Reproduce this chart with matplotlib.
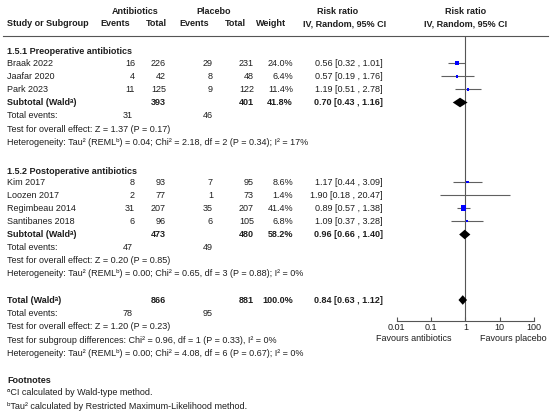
import numpy as np
import matplotlib
matplotlib.use('Agg')
from matplotlib import pyplot as plt

plt.rcParams['font.family'] = ['Liberation Sans', 'DejaVu Sans']

# Subgroup 1.5.1 Preoperative antibiotics
studies1 = ['Braak 2022', 'Jaafar 2020', 'Park 2023']
ev_a1 = [16, 4, 11]
tot_a1 = [226, 42, 125]
ev_p1 = [29, 8, 9]
tot_p1 = [231, 48, 122]
weight1 = [24.0, 6.4, 11.4]
rr1 = [0.56, 0.57, 1.19]
lo1 = [0.32, 0.19, 0.51]
hi1 = [1.01, 1.76, 2.78]
sub1 = dict(tot_a=393, tot_p=401, weight=41.8, rr=0.70, lo=0.43, hi=1.16, ev_a=31, ev_p=46)
test1 = 'Test for overall effect: Z = 1.37 (P = 0.17)'
het1 = 'Heterogeneity: Tau² (REMLᵇ) = 0.04; Chi² = 2.18, df = 2 (P = 0.34); I² = 17%'

# Subgroup 1.5.2 Postoperative antibiotics
studies2 = ['Kim 2017', 'Loozen 2017', 'Regimbeau 2014', 'Santibanes 2018']
ev_a2 = [8, 2, 31, 6]
tot_a2 = [93, 77, 207, 96]
ev_p2 = [7, 1, 35, 6]
tot_p2 = [95, 73, 207, 105]
weight2 = [8.6, 1.4, 41.4, 6.8]
rr2 = [1.17, 1.90, 0.89, 1.09]
lo2 = [0.44, 0.18, 0.57, 0.37]
hi2 = [3.09, 20.47, 1.38, 3.28]
sub2 = dict(tot_a=473, tot_p=480, weight=58.2, rr=0.96, lo=0.66, hi=1.40, ev_a=47, ev_p=49)
test2 = 'Test for overall effect: Z = 0.20 (P = 0.85)'
het2 = 'Heterogeneity: Tau² (REMLᵇ) = 0.00; Chi² = 0.65, df = 3 (P = 0.88); I² = 0%'

# Overall
total = dict(tot_a=866, tot_p=881, weight=100.0, rr=0.84, lo=0.63, hi=1.12, ev_a=78, ev_p=95)
test_all = 'Test for overall effect: Z = 1.20 (P = 0.23)'
test_sub = 'Test for subgroup differences: Chi² = 0.96, df = 1 (P = 0.33), I² = 0%'
het_all = 'Heterogeneity: Tau² (REMLᵇ) = 0.00; Chi² = 4.08, df = 6 (P = 0.67); I² = 0%'

footnotes = ['ᵃCI calculated by Wald-type method.',
             'ᵇTau² calculated by Restricted Maximum-Likelihood method.']

ticks = [0.01, 0.1, 1, 10, 100]
tick_labels = ['0.01', '0.1', '1', '10', '100']

# Row positions (pixels from top)
rows1 = [63, 76.5, 89.5]
rows2 = [182, 195, 208, 221]
y_sub1, y_sub2, y_tot = 102.5, 234.5, 300

W, H = 554, 419
fig = plt.figure(figsize=(W / 100, H / 100), dpi=100)
ax = fig.add_axes([0, 0, 1, 1])
ax.set_xlim(0, W)
ax.set_ylim(H, 0)
ax.axis('off')

fs = 6.5
tc = '#1e1e1e'


def txt(x, y, s, ha='left', bold=False):
    ax.text(x, y, s, ha=ha, va='center', fontsize=fs, color=tc,
            fontweight='bold' if bold else 'normal')


# column x positions
x_lab, x_eva, x_tota, x_evp, x_totp, x_w, x_rr = 7, 135, 166, 213, 254, 293, 383

# header
txt(135.5, 11, 'Antibiotics', 'center', True)
txt(214, 11, 'Placebo', 'center', True)
txt(338, 11, 'Risk ratio', 'center', True)
txt(466, 11, 'Risk ratio', 'center', True)
txt(x_lab, 24, 'Study or Subgroup', bold=True)
txt(115, 24, 'Events', 'center', True)
txt(156, 24, 'Total', 'center', True)
txt(194, 24, 'Events', 'center', True)
txt(235, 24, 'Total', 'center', True)
txt(271, 24, 'Weight', 'center', True)
txt(345, 24, 'IV, Random, 95% CI', 'center', True)
txt(466, 24, 'IV, Random, 95% CI', 'center', True)
ax.plot([3, 548], [36, 36], color='#555555', lw=0.8)


def study_rows(names, ea, ta, ep, tp, w, rr, lo, hi, ys):
    for i, y in enumerate(ys):
        txt(x_lab, y, names[i])
        txt(x_eva, y, str(ea[i]), 'right')
        txt(x_tota, y, str(ta[i]), 'right')
        txt(x_evp, y, str(ep[i]), 'right')
        txt(x_totp, y, str(tp[i]), 'right')
        txt(x_w, y, f'{w[i]:.1f}%', 'right')
        txt(x_rr, y, f'{rr[i]:.2f} [{lo[i]:.2f} , {hi[i]:.2f}]', 'right')


def summary_rows(label, d, y):
    txt(x_lab, y, label, bold=True)
    txt(x_tota, y, str(d['tot_a']), 'right', True)
    txt(x_totp, y, str(d['tot_p']), 'right', True)
    txt(x_w, y, f"{d['weight']:.1f}%", 'right', True)
    txt(x_rr, y, f"{d['rr']:.2f} [{d['lo']:.2f} , {d['hi']:.2f}]", 'right', True)
    txt(x_lab, y + 13.3, 'Total events:')
    txt(x_eva - 2, y + 13.3, str(d['ev_a']), 'right')
    txt(x_evp, y + 13.3, str(d['ev_p']), 'right')


txt(x_lab, 51, '1.5.1 Preoperative antibiotics', bold=True)
study_rows(studies1, ev_a1, tot_a1, ev_p1, tot_p1, weight1, rr1, lo1, hi1, rows1)
summary_rows('Subtotal (Waldᵃ)', sub1, y_sub1)
txt(x_lab, 129, test1)
txt(x_lab, 142, het1)

txt(x_lab, 171, '1.5.2 Postoperative antibiotics', bold=True)
study_rows(studies2, ev_a2, tot_a2, ev_p2, tot_p2, weight2, rr2, lo2, hi2, rows2)
summary_rows('Subtotal (Waldᵃ)', sub2, y_sub2)
txt(x_lab, 260.5, test2)
txt(x_lab, 273.5, het2)

summary_rows('Total (Waldᵃ)', total, y_tot)
txt(x_lab, 326.5, test_all)
txt(x_lab, 340, test_sub)
txt(x_lab, 353, het_all)

txt(x_lab, 380, 'Footnotes', bold=True)
txt(x_lab, 392.5, footnotes[0])
txt(x_lab, 406, footnotes[1])

txt(414, 338, 'Favours antibiotics', 'center')
txt(513, 338, 'Favours placebo', 'center')

# forest plot axes
x0, x1 = 396.7, 534.0
y_top, y_axis = 36, 320.7
fa = fig.add_axes([x0 / W, (H - y_axis) / H, (x1 - x0) / W, (y_axis - y_top) / H])
fa.set_xscale('log')
fa.set_xlim(0.01, 100)
fa.set_ylim(y_axis, y_top)
fa.patch.set_alpha(0)
for s in ['top', 'left', 'right']:
    fa.spines[s].set_visible(False)
fa.spines['bottom'].set_color('#555555')
fa.spines['bottom'].set_linewidth(0.8)
fa.set_yticks([])
fa.set_xticks(ticks)
fa.set_xticklabels(tick_labels)
fa.minorticks_off()
fa.tick_params(axis='x', direction='in', length=3, width=0.8, color='#555555',
               pad=1.5, labelsize=fs, labelcolor=tc)
fa.axvline(1, color='#555555', lw=0.8)

rr = np.array(rr1 + rr2)
lo = np.array(lo1 + lo2)
hi = np.array(hi1 + hi2)
wt = np.array(weight1 + weight2)
ys = np.array(rows1 + rows2)
fa.hlines(ys, lo, hi, color='#606060', lw=0.8, zorder=2)
fa.scatter(rr, ys, s=0.36 * wt, marker='s', color='#0000ff', linewidths=0, zorder=3)

for d, y in [(sub1, y_sub1), (sub2, y_sub2), (total, y_tot)]:
    fa.fill([d['lo'], d['rr'], d['hi'], d['rr']], [y, y - 4.8, y, y + 4.8],
            color='black', lw=0, zorder=4)

fig.savefig('out.png', dpi=100)
